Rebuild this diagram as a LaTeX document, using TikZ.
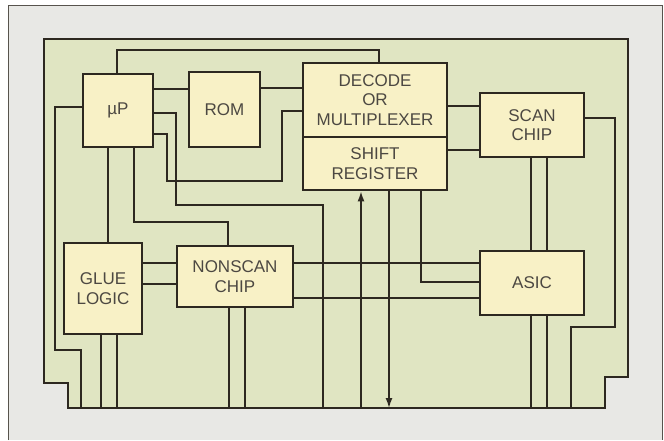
\documentclass[tikz,border=0pt]{standalone}
\usepackage{fontspec}
\setmainfont{Liberation Sans}
\usetikzlibrary{arrows.meta}
\definecolor{framegray}{RGB}{232,232,229}
\definecolor{boardgreen}{RGB}{224,229,194}
\definecolor{chipfill}{RGB}{248,241,198}
\definecolor{trace}{RGB}{45,40,32}

\begin{document}
\begin{tikzpicture}[
    x=1pt, y=-1pt,
    chip/.style={rectangle, draw=trace, line width=2.8pt, fill=chipfill, align=center, inner sep=0pt, font=\fontsize{17}{19.5}\selectfont, text=trace!85},
    wire/.style={draw=trace, line width=1.5pt},
    arrow/.style={wire, -{Latex[length=10pt, width=7pt]}}
  ]
  \useasboundingbox (0,0) rectangle (664,440);
  \fill[white] (0,0) rectangle (664,440);
  \draw[fill=framegray, draw=trace!80, line width=1pt] (8,440) -- (8,5) -- (662,5) -- (662,440);
  % board outline
  \draw[fill=boardgreen, draw=trace, line width=2.8pt] (44,39) -- (628,39) -- (628,377) -- (605,377) -- (605,408) -- (68,408) -- (68,383) -- (44,383) -- cycle;

  \node[chip, minimum width=70pt, minimum height=73pt] (mp) at (118,110.5) {µP};
  \node[chip, minimum width=71pt, minimum height=75pt] (rom) at (224.5,109.5) {ROM};
  \node[chip, minimum width=144pt, minimum height=74pt] (dec) at (375,100) {DECODE\\OR\\MULTIPLEXER};
  \node[chip, minimum width=144pt, minimum height=53pt] (shr) at (375,163.5) {SHIFT\\REGISTER};
  \node[chip, minimum width=104pt, minimum height=64pt] (scan) at (532,125) {SCAN\\CHIP};
  \node[chip, minimum width=78pt, minimum height=91pt] (glue) at (103,288.5) {GLUE\\LOGIC};
  \node[chip, minimum width=116pt, minimum height=61pt] (nonscan) at (235,276.5) {NONSCAN\\CHIP};
  \node[chip, minimum width=104pt, minimum height=64pt] (asic) at (532,283) {ASIC};

  % uP connections
  \draw[wire] (mp.north -| 117,0) |- (379,50) -- (dec.north -| 379,0);
  \draw[wire] (mp.east |- 0,89) -- (rom.west |- 0,89);
  \draw[wire] (rom.east |- 0,88) -- (dec.west |- 0,88);
  \draw[wire] (mp.east |- 0,113) -| (176,205) -| (323,408);
  \draw[wire] (mp.east |- 0,134) -| (167,181) -| (282,111) -- (dec.west |- 0,111);
  \draw[wire] (mp.west |- 0,107) -| (55,350) -| (81,408);
  \draw[wire] (mp.south -| 108,0) -- (glue.north -| 108,0);
  \draw[wire] (mp.south -| 134,0) |- (228,222) -- (nonscan.north -| 228,0);

  % glue logic and nonscan chip
  \draw[wire] (glue.east |- 0,263) -- (nonscan.west |- 0,263);
  \draw[wire] (glue.east |- 0,284) -- (nonscan.west |- 0,284);
  \draw[wire] (glue.south -| 101,0) -- (101,408);
  \draw[wire] (glue.south -| 117,0) -- (117,408);
  \draw[wire] (nonscan.south -| 229,0) -- (229,408);
  \draw[wire] (nonscan.south -| 245,0) -- (245,408);
  \draw[wire] (nonscan.east |- 0,263) -- (asic.west |- 0,263);
  \draw[wire] (nonscan.east |- 0,298) -- (asic.west |- 0,298);

  % shift register in and out
  \draw[wire] (shr.south -| 421,0) |- (asic.west |- 0,282);
  \draw[arrow] (361,408) -- (shr.south -| 361,0);
  \draw[arrow] (shr.south -| 389,0) -- (389,408);

  % scan chip and asic
  \draw[wire] (dec.east |- 0,106) -- (scan.west |- 0,106);
  \draw[wire] (shr.east |- 0,150) -- (scan.west |- 0,150);
  \draw[wire] (scan.south -| 531,0) -- (asic.north -| 531,0);
  \draw[wire] (scan.south -| 547,0) -- (asic.north -| 547,0);
  \draw[wire] (asic.south -| 531,0) -- (531,408);
  \draw[wire] (asic.south -| 547,0) -- (547,408);
  \draw[wire] (scan.east |- 0,118) -| (615,327) -| (571,408);
\end{tikzpicture}
\end{document}
